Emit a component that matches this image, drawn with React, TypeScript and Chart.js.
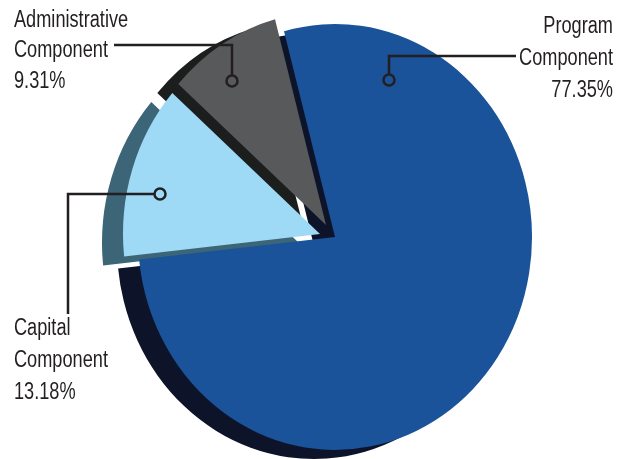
import React, { useEffect, useRef } from "react";
import { Chart, registerables } from "chart.js";

Chart.register(...registerables);

const categories = ["Program Component", "Capital Component", "Administrative Component"];
const values = [77.35, 13.18, 9.31];

const sliceColors = ["#1a5399", "#9ed9f5", "#58595b"];
const shadowColors = ["#0d1429", "#3d6578", "#1c1d1d"];
// explode translation for each slice (px) and shadow offset
const explode: [number, number][] = [[0, 0], [-15, -3], [-9, -12]];
const shadowOffset: [number, number] = [-21, 9];
const SCALE_Y = 1.081;

const FONT = '23px "Liberation Sans", Arial, sans-serif';
const TEXT_SCALE_X = 0.79;
const TEXT_COLOR = "#231f20";

function withSliceTransform(
  ctx: CanvasRenderingContext2D,
  x: number,
  y: number,
  dx: number,
  dy: number,
  fn: () => void
) {
  ctx.save();
  ctx.translate(dx, dy);
  ctx.translate(x, y);
  ctx.scale(1, SCALE_Y);
  ctx.translate(-x, -y);
  fn();
  ctx.restore();
}

const shadowPlugin = {
  id: "shadowPie",
  beforeDatasetsDraw(chart: any) {
    const meta = chart.getDatasetMeta(0);
    const ctx = chart.ctx as CanvasRenderingContext2D;
    // shadows first
    meta.data.forEach((arc: any, i: number) => {
      const { x, y, startAngle, endAngle, outerRadius } = arc.getProps(
        ["x", "y", "startAngle", "endAngle", "outerRadius"],
        true
      );
      const [ex, ey] = explode[i];
      withSliceTransform(ctx, x, y, ex + shadowOffset[0], ey + shadowOffset[1], () => {
        ctx.beginPath();
        ctx.moveTo(x, y);
        ctx.arc(x, y, outerRadius, startAngle, endAngle);
        ctx.closePath();
        ctx.fillStyle = shadowColors[i];
        ctx.fill();
      });
    });
    // then faces
    meta.data.forEach((arc: any, i: number) => {
      const { x, y } = arc.getProps(["x", "y"], true);
      const [ex, ey] = explode[i];
      withSliceTransform(ctx, x, y, ex, ey, () => arc.draw(ctx));
    });
    return false;
  },
};

type LabelSpec = {
  align: CanvasTextAlign;
  x: number;
  baselines: number[];
  path: [number, number][];
};

// label layout, in data order
const labelLayout: LabelSpec[] = [
  { align: "right", x: 613, baselines: [33, 65, 97], path: [[516, 56], [389, 56], [389, 74]] },
  { align: "left", x: 14, baselines: [335, 367, 399], path: [[68, 314], [68, 194], [154, 194]] },
  { align: "left", x: 14, baselines: [27, 57, 88], path: [[114, 45], [232, 45], [232, 75]] },
];
const dotCenters: [number, number][] = [[389, 80], [160, 194], [232, 81]];

const labelPlugin = {
  id: "leaderLabels",
  afterDraw(chart: any) {
    const ctx = chart.ctx as CanvasRenderingContext2D;
    ctx.save();
    ctx.fillStyle = TEXT_COLOR;
    ctx.strokeStyle = TEXT_COLOR;
    categories.forEach((cat, i) => {
      const spec = labelLayout[i];
      const words = cat.split(" ");
      const lines = [...words, values[i].toFixed(2) + "%"];
      ctx.save();
      ctx.scale(TEXT_SCALE_X, 1);
      ctx.font = FONT;
      ctx.textBaseline = "alphabetic";
      ctx.textAlign = spec.align;
      lines.forEach((t, j) => ctx.fillText(t, spec.x / TEXT_SCALE_X, spec.baselines[j]));
      ctx.restore();
      ctx.lineWidth = 2.5;
      ctx.beginPath();
      spec.path.forEach(([px, py], k) => (k === 0 ? ctx.moveTo(px, py) : ctx.lineTo(px, py)));
      ctx.stroke();
      const [cx, cy] = dotCenters[i];
      ctx.beginPath();
      ctx.arc(cx, cy, 5.5, 0, Math.PI * 2);
      ctx.stroke();
    });
    ctx.restore();
  },
};

export default function App() {
  const ref = useRef<HTMLCanvasElement>(null);
  useEffect(() => {
    if (!ref.current) return;
    const chart = new Chart(ref.current, {
      type: "pie",
      data: {
        labels: categories,
        datasets: [
          {
            data: values,
            backgroundColor: sliceColors,
            borderWidth: 0,
            radius: 197,
          } as any,
        ],
      },
      options: {
        animation: false,
        responsive: true,
        maintainAspectRatio: false,
        rotation: -15,
        layout: { padding: { left: 39, right: 0, top: 15, bottom: 0 } },
        plugins: {
          legend: { display: false },
          tooltip: { enabled: false },
        },
        events: [],
      },
      plugins: [shadowPlugin, labelPlugin],
    });
    return () => chart.destroy();
  }, []);
  return (
    <div style={{ position: "fixed", left: 0, top: 0, width: 631, height: 459, background: "#fff" }}>
      <canvas ref={ref} />
    </div>
  );
}
